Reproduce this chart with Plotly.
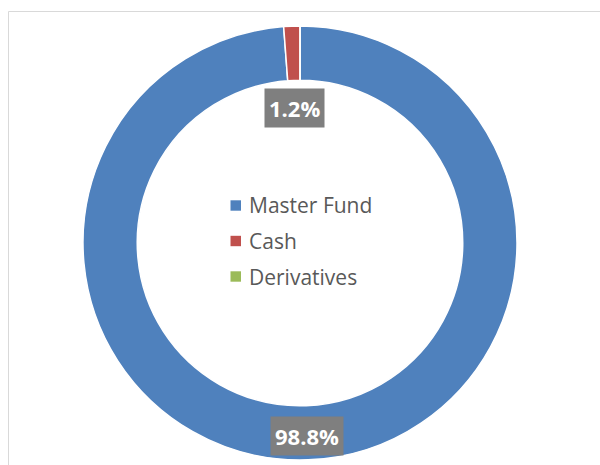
import math
import plotly.graph_objects as go

categories = ["Master Fund", "Cash", "Derivatives"]
values = [98.8, 1.2, 0.0]
colors = ["#4f81bd", "#c0504d", "#9bbb59"]

W, H = 600, 465
cx_px, cy_px = 300, 243
R_out = 217
hole = 0.75
R_in = R_out * hole

fig = go.Figure()
fig.add_trace(go.Pie(
    labels=categories, values=values, sort=False, direction="clockwise", rotation=0,
    hole=hole, marker=dict(colors=colors, line=dict(color="white", width=1.5)),
    textinfo="none", hoverinfo="label+percent", showlegend=False,
    domain=dict(x=[0, 1], y=[(H - cy_px - R_out) / H, (H - cy_px + R_out) / H]),
))

# data labels, positioned from the slice angles
total = sum(values)
cum = 0.0
for lab, v in zip(categories, values):
    if v <= 0:
        continue
    frac = v / total
    mid = (cum + frac / 2) * 2 * math.pi
    cum += frac
    r = (R_in + R_out) / 2 + 3 if frac > 0.05 else R_in - 28
    x = cx_px + r * math.sin(mid)
    y = cy_px - r * math.cos(mid)
    fig.add_annotation(
        x=x / W, y=1 - y / H, xref="paper", yref="paper",
        xanchor="center", yanchor="middle",
        text=f"<b>{v:.1f}%</b>", showarrow=False,
        font=dict(family="Open Sans", size=22, color="white"),
        bgcolor="#7f7f7f", borderpad=4,
    )

# centre legend
leg_y0 = 205.5
leg_dy = 35.5
for i, (lab, c) in enumerate(zip(categories, colors)):
    yy = leg_y0 + i * leg_dy
    fig.add_shape(type="rect", xref="paper", yref="paper",
                  x0=230.5 / W, x1=241 / W, y0=1 - (yy - 5.2) / H, y1=1 - (yy + 5.2) / H,
                  fillcolor=c, line=dict(width=0))
    fig.add_annotation(x=247 / W, y=1 - yy / H, xref="paper", yref="paper",
                       text=lab, showarrow=False, xanchor="left", yanchor="middle",
                       font=dict(family="Open Sans", size=21, color="#595959"))

# chart-area border
fig.add_shape(type="rect", xref="paper", yref="paper",
              x0=8.5 / W, x1=1.02, y0=-0.02, y1=1 - 11.5 / H,
              line=dict(color="#d9d9d9", width=1), fillcolor="rgba(0,0,0,0)")

fig.update_layout(width=W, height=H, margin=dict(l=0, r=0, t=0, b=0),
                  paper_bgcolor="white", plot_bgcolor="white")
fig.write_html("out.html", config={"displayModeBar": False},
               post_script="document.body.style.margin='0';document.body.style.overflow='hidden';")
